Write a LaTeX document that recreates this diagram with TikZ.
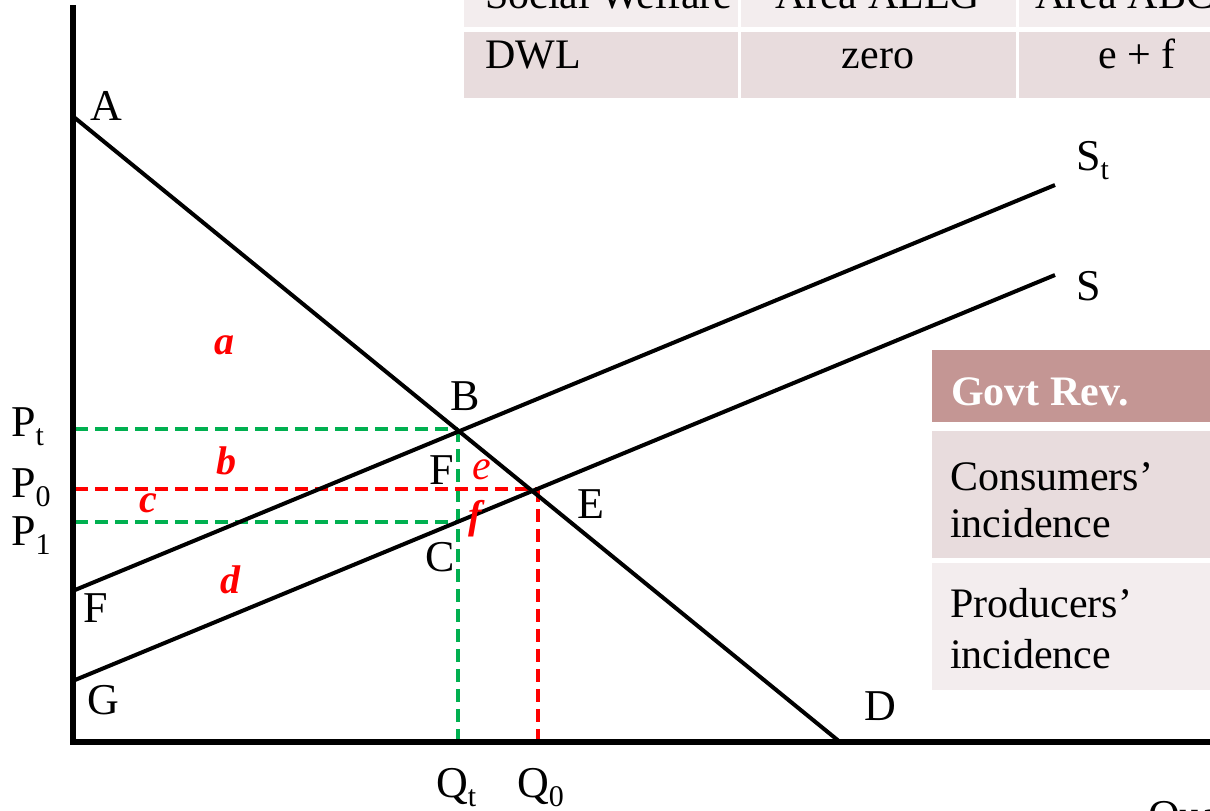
\documentclass[tikz,border=0pt]{standalone}
\usepackage{fontspec}
\setmainfont{Liberation Serif}
\definecolor{dgreen}{HTML}{00B050}
\definecolor{dred}{HTML}{FF0000}
\definecolor{rowA}{HTML}{F3EDEE}
\definecolor{rowB}{HTML}{E8DCDD}
\definecolor{hdr}{HTML}{C49694}
\newcommand{\lowsub}[1]{\raisebox{-0.22em}{\fontsize{30}{32}\selectfont #1}}
\tikzset{
  axisline/.style={line width=6pt},
  curve/.style={line width=4pt},
  gdash/.style={dgreen, line width=3.4pt, dash pattern=on 13pt off 7pt},
  rdash/.style={dred, line width=3.4pt, dash pattern=on 13pt off 7pt},
  lbl/.style={inner sep=0pt, font=\fontsize{44}{48}\selectfont},
  area/.style={inner sep=0pt, text=dred, font=\fontsize{40}{42}\selectfont\bfseries\itshape},
  ctext/.style={inner sep=0pt, anchor=base, font=\fontsize{42}{44}\selectfont},
}
\begin{document}
\begin{tikzpicture}[x=1pt,y=-1pt]
\useasboundingbox (0,0) rectangle (1210,811);
\clip (0,0) rectangle (1210,811);
% top table
\fill[rowA] (464,-60) rectangle (738,27);
\fill[rowA] (741,-60) rectangle (1016,27);
\fill[rowA] (1019,-60) rectangle (1260,27);
\fill[rowB] (464,32) rectangle (738,98);
\fill[rowB] (741,32) rectangle (1016,98);
\fill[rowB] (1019,32) rectangle (1260,98);
\node[ctext, anchor=base west] (sw) at (485,9) {Social Welfare};
\node[ctext] (alg) at (878,9) {Area ALEG};
\node[ctext] (abc) at (1140,9) {Area ABCG};
\node[ctext, anchor=base west] (dwl) at (485,68) {DWL};
\node[ctext] (zero) at (878,68) {zero};
\node[ctext] (ef) at (1137,68) {e + f};
% right table
\fill[hdr] (932,350) rectangle (1260,422);
\fill[rowB] (932,431) rectangle (1260,558);
\fill[rowA] (932,563) rectangle (1260,690);
\node[ctext, anchor=base west, text=white, font=\fontsize{42}{44}\selectfont\bfseries] (gr) at (951,405) {Govt Rev.};
\node[ctext, anchor=base west] (cons1) at (950,490) {Consumers’};
\node[ctext, anchor=base west] (cons2) at (950,537) {incidence};
\node[ctext, anchor=base west] (prod1) at (950,617) {Producers’};
\node[ctext, anchor=base west] (prod2) at (950,668) {incidence};
% key points
\coordinate (O) at (73,742);
\coordinate (Ytop) at (73,5);
\coordinate (Xend) at (1230,742);
\coordinate (A) at (75,118);
\coordinate (Dp) at (840,742);
\coordinate (F0) at (75,590);
\coordinate (St) at (1055,185);
\coordinate (G0) at (75,680);
\coordinate (S1) at (1055,275);
\coordinate (B) at (458,429);
\coordinate (C) at (458,522);
\coordinate (E) at (538,489);
\coordinate (Pt) at (75,429);
\coordinate (P0) at (75,489);
\coordinate (P1) at (75,522);
\coordinate (Qt) at (458,742);
\coordinate (Q0) at (538,742);
% dashed guides
\draw[gdash] (Pt) -- (B);
\draw[gdash] (P1) -- (C);
\draw[gdash] (B) -- (Qt);
\draw[rdash] (P0) -- (E);
\draw[rdash] (E) -- (Q0);
% curves
\draw[curve] (A) -- (Dp);
\draw[curve] (F0) -- (St);
\draw[curve] (G0) -- (S1);
% axes
\draw[axisline] (Ytop) -- (O) -- (Xend);
% labels
\node[lbl] (lA) at (106,106) {A};
\node[lbl] (lB) at (465,396) {B};
\node[lbl, anchor=base west] (lSt) at (1076,170) {S\lowsub{t}};
\node[lbl, anchor=base west] (lS) at (1076,300) {S};
\node[lbl] (lF1) at (442,470) {F};
\node[lbl] (lE) at (591,504) {E};
\node[lbl] (lC) at (440,557) {C};
\node[lbl] (lF2) at (96,608) {F};
\node[lbl] (lG) at (103,700) {G};
\node[lbl] (lD) at (880,706) {D};
\node[lbl, anchor=base west] (lPt) at (11,436) {P\lowsub{t}};
\node[lbl, anchor=base west] (lP0) at (11,497) {P\lowsub{0}};
\node[lbl, anchor=base west] (lP1) at (11,545) {P\lowsub{1}};
\node[lbl, anchor=base west] (lQt) at (436,797) {Q\lowsub{t}};
\node[lbl, anchor=base west] (lQ0) at (517,797) {Q\lowsub{0}};
\node[lbl, anchor=base west] (lQu) at (1148,830) {Quantity};
% areas
\node[area] (a) at (224,345) {a};
\node[area] (b) at (226,461) {b};
\node[area] (c) at (148,503) {c};
\node[area] (d) at (230,580) {d};
\node[area, font=\fontsize{42}{44}\selectfont\itshape] (e) at (482,470) {e};
\node[area] (f) at (475,519) {f};
\end{tikzpicture}
\end{document}
